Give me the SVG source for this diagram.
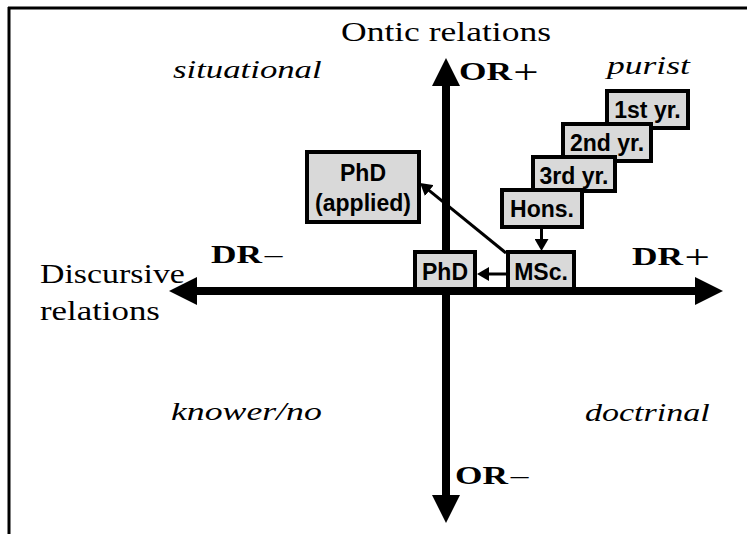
<svg xmlns="http://www.w3.org/2000/svg" width="747" height="534" viewBox="0 0 747 534">
  <defs>
    <style>
      .serif { font-family: "Liberation Serif", "DejaVu Serif", serif; fill: #000; }
      .lab { font-size: 27px; }
      .ital { font-size: 25px; font-style: italic; }
      .bold { font-size: 26px; font-weight: bold; }
      .sym { font-weight: normal; font-size: 33px; }
      .dash { font-weight: normal; font-size: 26px; }
      .box rect { fill: #d9d9d9; stroke: #000; stroke-width: 4; }
      .box text { font-family: "Liberation Sans", Arial, sans-serif; font-weight: bold; font-size: 23px; fill: #000; text-anchor: middle; }
      .axis { stroke: #000; stroke-width: 8; fill: none; }
      .link { stroke: #000; stroke-width: 3; fill: none; }
    </style>
    <marker id="bigHead" markerUnits="userSpaceOnUse" markerWidth="28" markerHeight="28" refX="7" refY="14" orient="auto-start-reverse" viewBox="0 0 28 28">
      <path d="M0,0 L28,14 L0,28 Z" fill="#000"/>
    </marker>
    <marker id="smallHead" markerUnits="userSpaceOnUse" markerWidth="13" markerHeight="14" refX="2" refY="7" orient="auto" viewBox="0 0 13 14">
      <path d="M0,0 L12,7 L0,14 Z" fill="#000"/>
    </marker>
  </defs>

  <!-- frame -->
  <g id="frame">
    <line x1="8" y1="8" x2="747" y2="8" stroke="#000" stroke-width="3"/>
    <line x1="9" y1="7" x2="9" y2="534" stroke="#000" stroke-width="3"/>
  </g>

  <!-- axes -->
  <g id="axes">
    <line class="axis" x1="190" y1="291" x2="702" y2="291" marker-start="url(#bigHead)" marker-end="url(#bigHead)"/>
    <line class="axis" x1="446" y1="79" x2="446" y2="502" marker-start="url(#bigHead)" marker-end="url(#bigHead)"/>
  </g>

  <!-- labels -->
  <g id="labels">
    <text class="serif lab" transform="translate(341,41) scale(1.315,1)">Ontic relations</text>
    <text class="serif ital" transform="translate(173,78) scale(1.39,1)">situational</text>
    <text class="serif ital" transform="translate(607,74) scale(1.42,1)">purist</text>
    <text class="serif bold" transform="translate(459,80) scale(1.36,1)">OR<tspan class="sym" dx="1" dy="3">+</tspan></text>
    <text class="serif bold" transform="translate(211,263) scale(1.36,1)">DR<tspan class="dash" dx="2">–</tspan></text>
    <text class="serif bold" transform="translate(632,265) scale(1.36,1)">DR<tspan class="sym" dx="1" dy="3">+</tspan></text>
    <text class="serif lab" transform="translate(40,283) scale(1.255,1)">Discursive</text>
    <text class="serif lab" transform="translate(40,320) scale(1.29,1)">relations</text>
    <text class="serif ital" transform="translate(171,420) scale(1.43,1)">knower/no</text>
    <text class="serif ital" transform="translate(585,421) scale(1.36,1)">doctrinal</text>
    <text class="serif bold" transform="translate(455,484) scale(1.36,1)">OR<tspan class="dash" dx="2">–</tspan></text>
  </g>

  <!-- nodes -->
  <g id="n1st" class="box">
    <rect x="607" y="91" width="81" height="37"/>
    <text x="647.5" y="118">1st yr.</text>
  </g>
  <g id="n2nd" class="box">
    <rect x="563" y="124" width="88" height="37"/>
    <text x="607" y="151">2nd yr.</text>
  </g>
  <g id="n3rd" class="box">
    <rect x="533" y="157" width="82" height="34"/>
    <text x="574" y="184">3rd yr.</text>
  </g>
  <g id="nHons" class="box">
    <rect x="502" y="190" width="80" height="37"/>
    <text x="542" y="217">Hons.</text>
  </g>
  <g id="nMSc" class="box">
    <rect x="508" y="252" width="66" height="37"/>
    <text x="541" y="280">MSc.</text>
  </g>
  <g id="nPhD" class="box">
    <rect x="415" y="252" width="60" height="37"/>
    <text x="445" y="280">PhD</text>
  </g>
  <g id="nPhDapplied" class="box">
    <rect x="307" y="152" width="112" height="70"/>
    <text x="363" y="181">PhD</text>
    <text x="363" y="211">(applied)</text>
  </g>

  <!-- connectors -->
  <g id="connectors">
    <line class="link" x1="541.5" y1="227" x2="541.5" y2="241" marker-end="url(#smallHead)"/>
    <line class="link" x1="508" y1="274" x2="487" y2="274" marker-end="url(#smallHead)"/>
    <line class="link" x1="506" y1="253" x2="427.8" y2="189.3" marker-end="url(#smallHead)"/>
  </g>
</svg>
